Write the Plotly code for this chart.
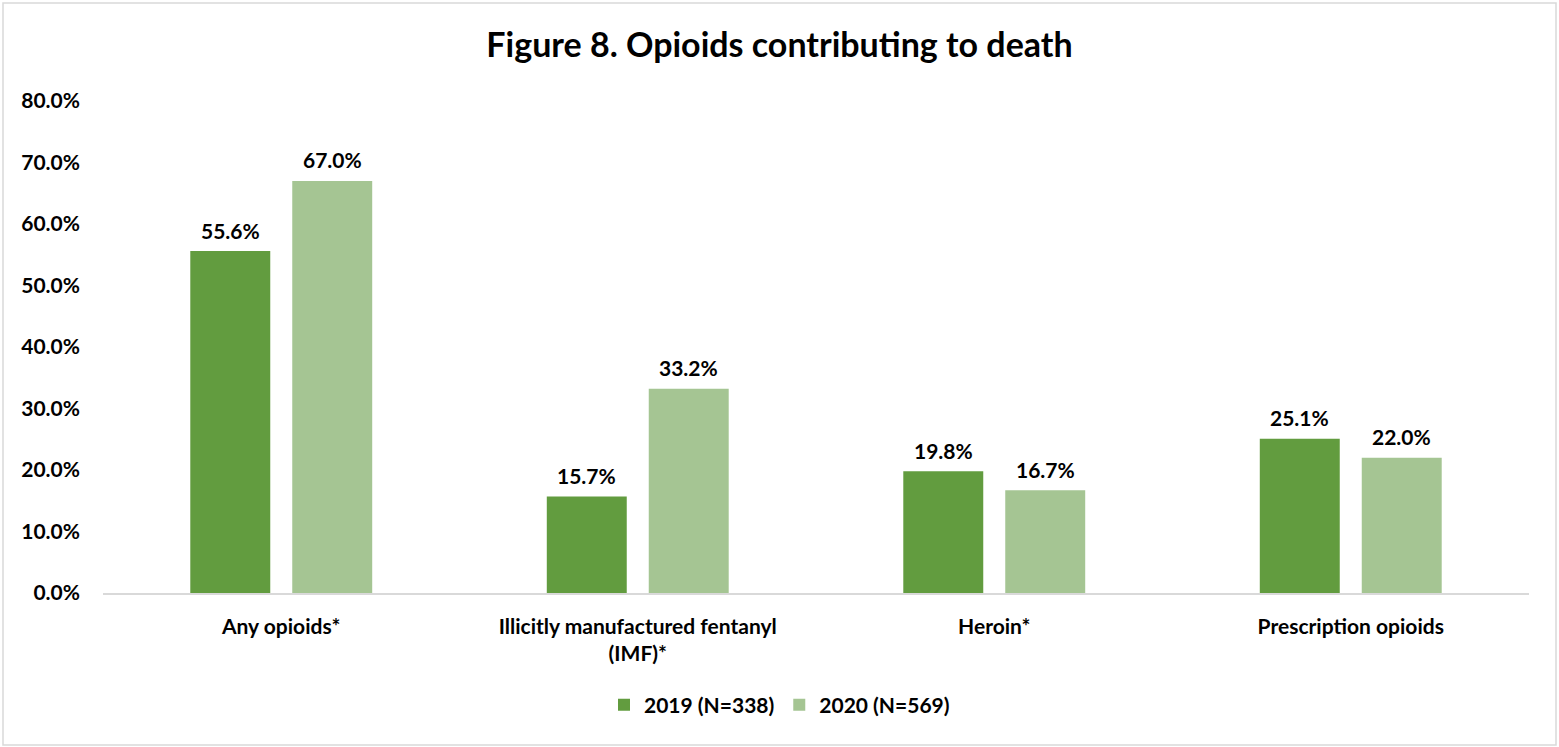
import plotly.graph_objects as go

categories = ["Any opioids*", "Illicitly manufactured fentanyl<br>(IMF)*", "Heroin*", "Prescription opioids"]
series_names = ["2019 (N=338)", "2020 (N=569)"]
values_2019 = [55.6, 15.7, 19.8, 25.1]
values_2020 = [67.0, 33.2, 16.7, 22.0]
y_ticks = [0, 10, 20, 30, 40, 50, 60, 70, 80]

colors = ["#629C3F", "#A5C593"]
FONT = "Lato, 'Open Sans', sans-serif"

W, H = 1559, 747
L, R, T, B = 103, 30, 101, 154

fig = go.Figure()
for name, vals, col in zip(series_names, [values_2019, values_2020], colors):
    fig.add_trace(go.Bar(x=categories, y=vals, name=name, marker=dict(color=col, line=dict(width=0))))

annotations = []
for vals, shift in [(values_2019, -51), (values_2020, 51)]:
    for c, v in zip(categories, vals):
        annotations.append(dict(x=c, y=v, text=f"<b>{v:.1f}%</b>", showarrow=False,
                                xshift=shift, yshift=21, yanchor="middle",
                                font=dict(size=21, color="black", family=FONT)))

pw = W - L - R
ph = H - T - B
fig.update_layout(
    width=W, height=H,
    margin=dict(l=L, r=R, t=T, b=B),
    paper_bgcolor="white", plot_bgcolor="white",
    barmode="group", bargap=0.428, bargroupgap=0.2157,
    title=dict(text="<b>Figure 8. Opioids contributing to death</b>", x=0.5, xref="container",
               y=1 - 45 / H, yref="container", yanchor="middle", xanchor="center",
               font=dict(size=34, color="black", family=FONT)),
    font=dict(family=FONT, color="black"),
    xaxis=dict(showgrid=False, showline=True, linecolor="#D9D9D9", linewidth=1.5,
               ticks="", ticklabelstandoff=14,
               tickfont=dict(size=21, color="black", family=FONT, weight="bold")),
    yaxis=dict(range=[0, 80], tickvals=y_ticks, ticktext=[f"{t:.1f}%" for t in y_ticks],
               showgrid=False, zeroline=False, showline=False, ticks="",
               ticklabelstandoff=22,
               tickfont=dict(size=21, color="black", family=FONT, weight="bold")),
    legend=dict(orientation="h", xref="container", x=0.5, xanchor="center",
                yref="container", y=1 - 705 / H, yanchor="middle",
                font=dict(size=21, color="black", family=FONT, weight="bold"),
                itemwidth=30, traceorder="normal"),
    annotations=annotations,
    shapes=[dict(type="rect", xref="paper", yref="paper",
                 x0=(3 - L) / pw, x1=(1556 - L) / pw,
                 y0=-(745 - (H - B)) / ph, y1=(H - B - 3) / ph,
                 line=dict(color="#D9D9D9", width=1.5), fillcolor="rgba(0,0,0,0)", layer="below")],
)

fig.write_html("out.html", config={"displayModeBar": False},
               post_script="document.body.style.margin='0';document.body.style.padding='0';")
